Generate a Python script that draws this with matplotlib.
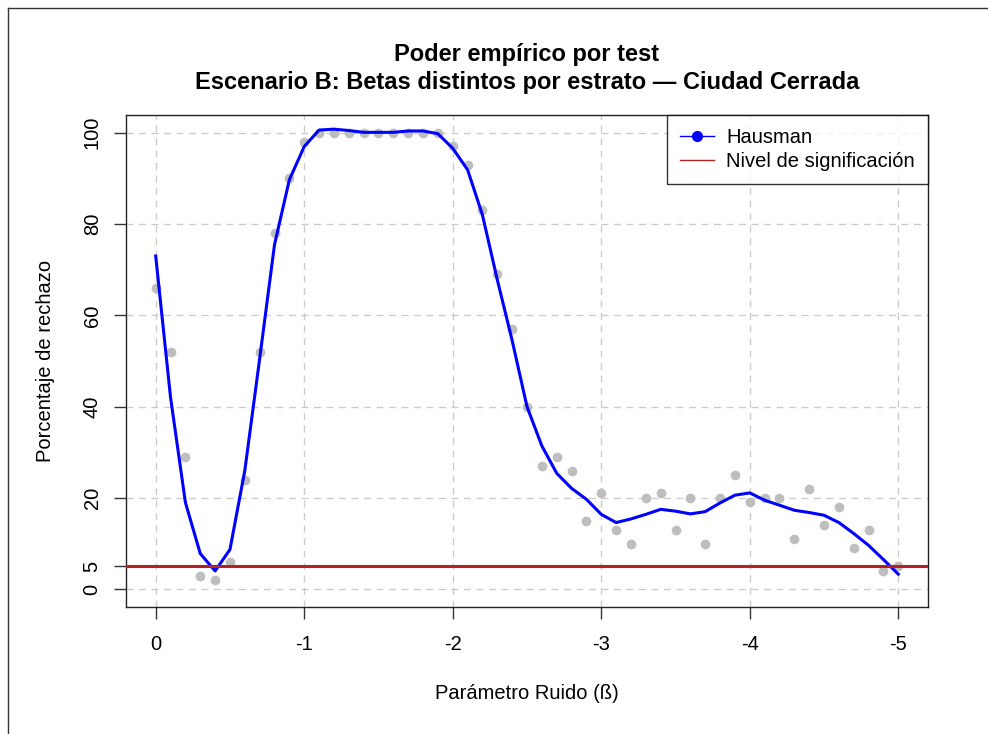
import matplotlib.pyplot as plt
from matplotlib.lines import Line2D
import numpy as np

plt.rcParams['font.family'] = ['Liberation Sans', 'DejaVu Sans']

# valores del parametro de ruido (0, -0.1, ..., -5)
beta = -np.arange(51) / 10

# porcentaje de rechazo empirico (puntos grises)
rechazo = [66, 52, 29, 3, 2, 6, 24, 52, 78, 90,
           98, 100, 100, 100, 100, 100, 100, 100, 100, 100,
           97, 93, 83, 69, 57, 40, 27, 29, 26, 15,
           21, 13, 10, 20, 21, 13, 20, 10, 20, 25,
           19, 20, 20, 11, 22, 14, 18, 9, 13, 4,
           5]

# curva suavizada Hausman (linea azul)
suavizado = [73.0, 42.0, 19.0, 7.8, 4.0, 8.7, 26.0, 50.5, 75.5, 89.7,
             97.0, 100.6, 100.8, 100.5, 100.1, 100.1, 100.1, 100.4, 100.4, 99.8,
             96.6, 91.9, 82.0, 67.8, 54.5, 40.0, 31.4, 25.4, 22.1, 19.7,
             16.4, 14.6, 15.4, 16.4, 17.5, 17.1, 16.5, 17.0, 18.9, 20.6,
             21.1, 19.5, 18.4, 17.3, 16.8, 16.2, 14.6, 12.2, 9.6, 6.5,
             3.3]

nivel = 5
xticks = [0, -1, -2, -3, -4, -5]
yticks = [0, 5, 20, 40, 60, 80, 100]
ygrid = [0, 20, 40, 60, 80, 100]

fs = 14.5

fig = plt.figure(figsize=(9.88, 7.34), dpi=100)
ax = fig.add_axes([126 / 988, 1 - 607 / 734, 802 / 988, 492 / 734])

# rejilla punteada
for gx in xticks:
    ax.axvline(gx, color='#cccccc', lw=1, ls=(0, (5, 4)), zorder=0)
for gy in ygrid:
    ax.axhline(gy, color='#cccccc', lw=1, ls=(0, (5, 4)), zorder=0)

ax.plot(beta, rechazo, 'o', color='#bebebe', ms=7, mec='none', zorder=2)
ax.plot(beta, suavizado, color='#0000ff', lw=2.2, zorder=3)
ax.axhline(nivel, color='#b22222', lw=2.2, zorder=4)

ax.set_xlim(0.2, -5.2)
ax.set_ylim(-3.9, 103.9)
ax.set_xticks(xticks)
ax.set_xticklabels([str(t) for t in xticks])
ax.set_yticks(yticks)
ax.set_yticklabels([str(t) for t in yticks], rotation=90, va='center')
ax.tick_params(axis='both', direction='out', length=8.5, width=1, labelsize=fs, color='#333333')
ax.tick_params(axis='x', pad=12)
ax.tick_params(axis='y', pad=9)
for s in ax.spines.values():
    s.set_linewidth(1)
    s.set_color('#222222')

ax.set_xlabel('Parámetro Ruido (ß)', fontsize=fs, va='center')
ax.xaxis.set_label_coords(0.5, -0.175)
ax.set_ylabel('Porcentaje de rechazo', fontsize=fs, va='center')
ax.yaxis.set_label_coords(-0.1, 0.5)

fig.text(527 / 988, 1 - 54 / 734, 'Poder empírico por test', ha='center', va='center',
         fontsize=17, fontweight='bold')
fig.text(527 / 988, 1 - 82 / 734, 'Escenario B: Betas distintos por estrato — Ciudad Cerrada',
         ha='center', va='center', fontsize=17, fontweight='bold')

handles = [Line2D([0], [0], color='#0000ff', lw=1, marker='o', ms=7),
           Line2D([0], [0], color='#b22222', lw=1)]
leg = ax.legend(handles, ['Hausman', 'Nivel de significación'], loc='upper right',
                borderaxespad=0, fancybox=False, fontsize=fs, handlelength=1.7,
                handletextpad=0.6, borderpad=0.65, labelspacing=0.25)
leg.get_frame().set_edgecolor('black')
leg.get_frame().set_linewidth(1)
leg.set_zorder(10)

# marco de la figura
fig.add_artist(Line2D([8 / 988, 8 / 988], [0, 1 - 8 / 734], color='#333333', lw=1))
fig.add_artist(Line2D([8 / 988, 1], [1 - 8 / 734, 1 - 8 / 734], color='#333333', lw=1))

fig.savefig('out.png', dpi=100)
